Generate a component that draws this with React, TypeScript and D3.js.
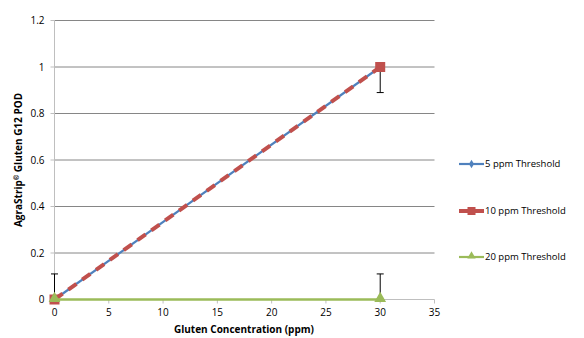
import React, { useEffect, useRef } from 'react';
import * as d3 from 'd3';

const concentrations = [0, 30];
const pod5 = [0, 1];
const pod10 = [0, 1];
const pod20 = [0, 0];
const xTicks = [0, 5, 10, 15, 20, 25, 30, 35];
const yTicks = [0, 0.2, 0.4, 0.6, 0.8, 1, 1.2];
const seriesNames = ['5 ppm Threshold', '10 ppm Threshold', '20 ppm Threshold'];
// error bars: [x, from, to]
const errorBars = [[0, 0, 0.11], [30, 1, 0.89], [30, 0, 0.11]];

const App = () => {
  const svgRef = useRef<SVGSVGElement>(null);
  useEffect(() => {
    const svg = d3.select(svgRef.current);
    svg.selectAll('*').remove();
    const font = 'Open Sans, Noto Sans, sans-serif';

    const x = d3.scaleLinear().domain([0, 35]).range([54.5, 434.5]);
    const y = d3.scaleLinear().domain([0, 1.2]).range([299.5, 20.5]);

    svg.append('rect').attr('width', 584).attr('height', 338).attr('fill', '#fff');

    // gridlines
    svg.append('g').selectAll('line').data(yTicks.filter(d => d > 0)).join('line')
      .attr('x1', x(0)).attr('x2', x(35)).attr('y1', d => y(d)).attr('y2', d => y(d))
      .attr('stroke', '#868686').attr('stroke-width', 1);

    // y axis
    svg.append('line').attr('x1', x(0)).attr('x2', x(0)).attr('y1', y(0)).attr('y2', y(1.2))
      .attr('stroke', '#bfbfbf').attr('stroke-width', 1);
    svg.append('g').selectAll('line').data(yTicks).join('line')
      .attr('x1', x(0) - 4).attr('x2', x(0)).attr('y1', d => y(d)).attr('y2', d => y(d))
      .attr('stroke', '#bfbfbf');
    svg.append('g').selectAll('text').data(yTicks).join('text')
      .attr('x', x(0) - 10).attr('y', d => y(d)).attr('dy', '0.35em').attr('text-anchor', 'end')
      .attr('font-family', font).attr('font-size', 10).attr('fill', '#000').text(d => String(d));

    // x axis
    svg.append('line').attr('x1', x(0)).attr('x2', x(35)).attr('y1', y(0)).attr('y2', y(0))
      .attr('stroke', '#bfbfbf');
    svg.append('g').selectAll('line').data(xTicks).join('line')
      .attr('x1', d => x(d)).attr('x2', d => x(d)).attr('y1', y(0)).attr('y2', y(0) + 4)
      .attr('stroke', '#bfbfbf');
    svg.append('g').selectAll('text').data(xTicks).join('text')
      .attr('x', d => x(d)).attr('y', y(0) + 16).attr('text-anchor', 'middle')
      .attr('font-family', font).attr('font-size', 10).attr('fill', '#000').text(d => String(d));

    // titles
    svg.append('text').attr('x', 244).attr('y', 333).attr('text-anchor', 'middle')
      .attr('font-family', font).attr('font-size', 10).attr('font-weight', 'bold')
      .text('Gluten Concentration (ppm)');
    const yt = svg.append('text').attr('transform', `translate(22,${(y(0) + y(1.2)) / 2}) rotate(-90)`)
      .attr('text-anchor', 'middle')
      .attr('font-family', font).attr('font-size', 10).attr('font-weight', 'bold');
    yt.append('tspan').text('AgraStrip');
    yt.append('tspan').attr('font-size', 6.5).attr('dy', -3).text('®');
    yt.append('tspan').attr('dy', 3).text(' Gluten G12 POD');

    const line = d3.line<number>().x((d, i) => x(concentrations[i])).y(d => y(d));

    // error bars
    const eb = svg.append('g');
    errorBars.forEach(([cx, a, b]) => {
      eb.append('line').attr('x1', x(cx)).attr('x2', x(cx)).attr('y1', y(a)).attr('y2', y(b))
        .attr('stroke', '#000').attr('stroke-width', 1);
      eb.append('line').attr('x1', x(cx) - 3.5).attr('x2', x(cx) + 3.5).attr('y1', y(b)).attr('y2', y(b))
        .attr('stroke', '#000').attr('stroke-width', 1);
    });

    // 5 ppm
    svg.append('path').datum(pod5).attr('d', line).attr('fill', 'none')
      .attr('stroke', '#4F81BD').attr('stroke-width', 2.2);
    // 10 ppm
    svg.append('path').datum(pod10).attr('d', line).attr('fill', 'none')
      .attr('stroke', '#C0504D').attr('stroke-width', 4).attr('stroke-dasharray', '10,7');
    pod10.forEach((v, i) => {
      svg.append('rect').attr('x', x(concentrations[i]) - 5).attr('y', y(v) - 5)
        .attr('width', 10).attr('height', 10).attr('fill', '#C0504D');
    });
    // 20 ppm
    svg.append('path').datum(pod20).attr('d', line).attr('fill', 'none')
      .attr('stroke', '#9BBB59').attr('stroke-width', 2.5);
    const tri = d3.symbol().type(d3.symbolTriangle).size(60);
    pod20.forEach((v, i) => {
      svg.append('path').attr('d', tri()).attr('transform', `translate(${x(concentrations[i])},${y(v) - 1})`)
        .attr('fill', '#9BBB59');
    });

    // legend
    const colors = ['#4F81BD', '#C0504D', '#9BBB59'];
    const legendY = [164, 211, 257];
    seriesNames.forEach((name, i) => {
      const g = svg.append('g').attr('transform', `translate(459,${legendY[i]})`);
      g.append('line').attr('x1', 0).attr('x2', 25).attr('y1', 0).attr('y2', 0)
        .attr('stroke', colors[i]).attr('stroke-width', i === 1 ? 4 : 2.2);
      if (i === 0) {
        g.append('path').attr('d', d3.symbol().type(d3.symbolDiamond).size(22)()).attr('transform', 'translate(12.5,0)').attr('fill', colors[i]);
      } else if (i === 1) {
        g.append('rect').attr('x', 8.5).attr('y', -4).attr('width', 8).attr('height', 8).attr('fill', colors[i]);
      } else {
        g.append('path').attr('d', d3.symbol().type(d3.symbolTriangle).size(30)()).attr('transform', 'translate(12.5,-1)').attr('fill', colors[i]);
      }
      g.append('text').attr('x', 26).attr('y', 0).attr('dy', '0.35em')
        .attr('font-family', font).attr('font-size', 9.5).attr('fill', '#000').text(name);
    });
  }, []);

  return (
    <div style={{ position: 'absolute', left: 0, top: 0 }}>
      <svg ref={svgRef} width={584} height={338}></svg>
    </div>
  );
};

export default App;
